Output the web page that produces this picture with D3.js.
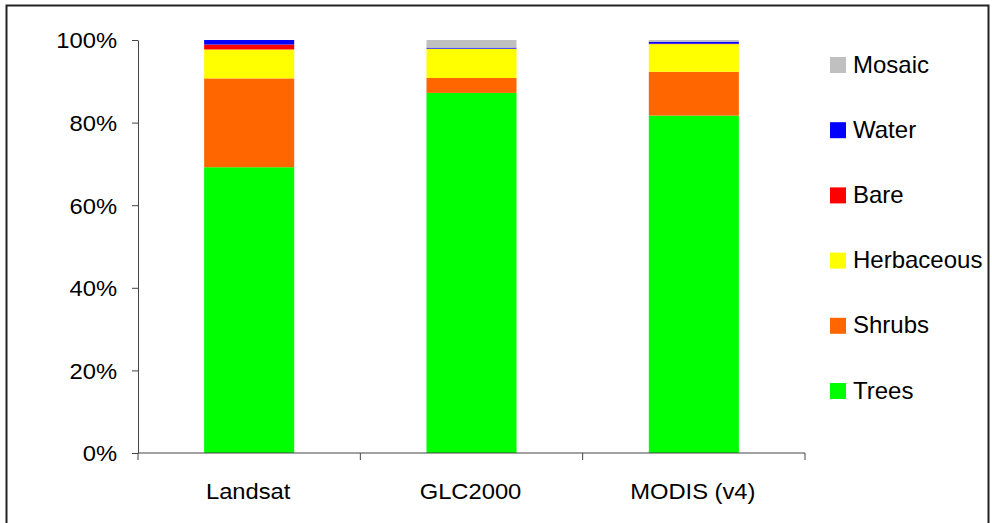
<!DOCTYPE html>
<html>
<head>
<meta charset="utf-8">
<script src="https://cdn.jsdelivr.net/npm/d3@7"></script>
<style>
  body { margin: 0; background: #fff; }
  text { font-family: "Liberation Sans", Arial, sans-serif; fill: #000; }
</style>
</head>
<body>
<div id="chart"></div>
<script>
const sources = ['Landsat', 'GLC2000', 'MODIS (v4)'];
const classes = ['Trees', 'Shrubs', 'Herbaceous', 'Bare', 'Water', 'Mosaic'];
const colors = ['#00ff00', '#ff6600', '#ffff00', '#ff0000', '#0000ff', '#c0c0c0'];
// percent of each class, per source
const trees = [69.2, 87.2, 81.7];
const shrubs = [21.5, 3.6, 10.6];
const herbaceous = [7.0, 7.1, 6.7];
const bare = [1.2, 0.0, 0.1];
const water = [1.1, 0.25, 0.5];
const mosaic = [0.0, 1.85, 0.4];
const yTicks = [0, 0.2, 0.4, 0.6, 0.8, 1];

const series = [trees, shrubs, herbaceous, bare, water, mosaic];
const rows = sources.map(function (s, i) {
    var r = { source: s };
    classes.forEach(function (c, j) { r[c] = series[j][i]; });
    return r;
});

const W = 992, H = 523;
const stretch = 1.08;
const svg = d3.select('#chart').append('svg')
    .attr('width', W).attr('height', H);

svg.append('rect')
    .attr('x', 6.5).attr('y', 5.5)
    .attr('width', 982).attr('height', 530)
    .attr('fill', 'none').attr('stroke', '#222').attr('stroke-width', 2);

const plot = { left: 138, right: 805, top: 40, bottom: 453 };

const x = d3.scaleBand().domain(sources)
    .range([plot.left, plot.right]).paddingInner(0.595).paddingOuter(0.2975);
const y = d3.scaleLinear().domain([0, 1]).range([plot.bottom, plot.top]);

const stack = d3.stack().keys(classes)
    .offset(d3.stackOffsetExpand);
const layers = stack(rows);

svg.append('g').selectAll('g')
    .data(layers).enter().append('g')
    .attr('fill', function (d, i) { return colors[i]; })
    .selectAll('rect')
    .data(function (d) { return d; })
    .enter().append('rect')
    .attr('x', function (d) { return x(d.data.source); })
    .attr('width', x.bandwidth())
    .attr('y', function (d) { return y(d[1]); })
    .attr('height', function (d) { return y(d[0]) - y(d[1]); });

// y axis
const yAxis = svg.append('g')
    .attr('transform', 'translate(' + plot.left + ',0)')
    .call(d3.axisLeft(y).tickValues(yTicks).tickFormat(d3.format('.0%')).tickSize(6).tickSizeOuter(0));
yAxis.select('.domain').attr('stroke', '#444');
yAxis.selectAll('.tick line').attr('stroke', '#444');
yAxis.selectAll('.tick text')
    .attr('font-size', 22).attr('x', 0).attr('dy', '0.36em')
    .attr('transform', 'translate(-21,0) scale(' + stretch + ',1)');

// x axis with ticks at category boundaries
const step = x.step();
const bounds = d3.range(sources.length + 1).map(function (i) { return plot.left + i * step; });
const xg = svg.append('g');
xg.append('line')
    .attr('x1', plot.left).attr('x2', plot.right)
    .attr('y1', plot.bottom).attr('y2', plot.bottom)
    .attr('stroke', '#444');
xg.selectAll('line.tk').data(bounds).enter().append('line')
    .classed('tk', true)
    .attr('x1', function (d) { return d; }).attr('x2', function (d) { return d; })
    .attr('y1', plot.bottom).attr('y2', plot.bottom + 7)
    .attr('stroke', '#444');
xg.selectAll('text').data(sources).enter().append('text')
    .attr('text-anchor', 'middle')
    .attr('font-size', 22)
    .attr('transform', function (d) {
        return 'translate(' + (x(d) + x.bandwidth() / 2 - 1) + ',' + 499 + ') scale(' + stretch + ',1)';
    })
    .text(function (d) { return d; });

// legend, top to bottom reversed
const legendItems = classes.map(function (c, i) { return { name: c, color: colors[i] }; }).reverse();
const lg = svg.append('g').selectAll('g')
    .data(legendItems).enter().append('g')
    .attr('transform', function (d, i) { return 'translate(830,' + (57 + i * 65.2) + ')'; });
lg.append('rect')
    .attr('width', 16).attr('height', 16)
    .attr('fill', function (d) { return d.color; });
lg.append('text')
    .attr('font-size', 24)
    .attr('x', 23).attr('y', 15.5)
    .text(function (d) { return d.name; });
</script>
</body>
</html>
